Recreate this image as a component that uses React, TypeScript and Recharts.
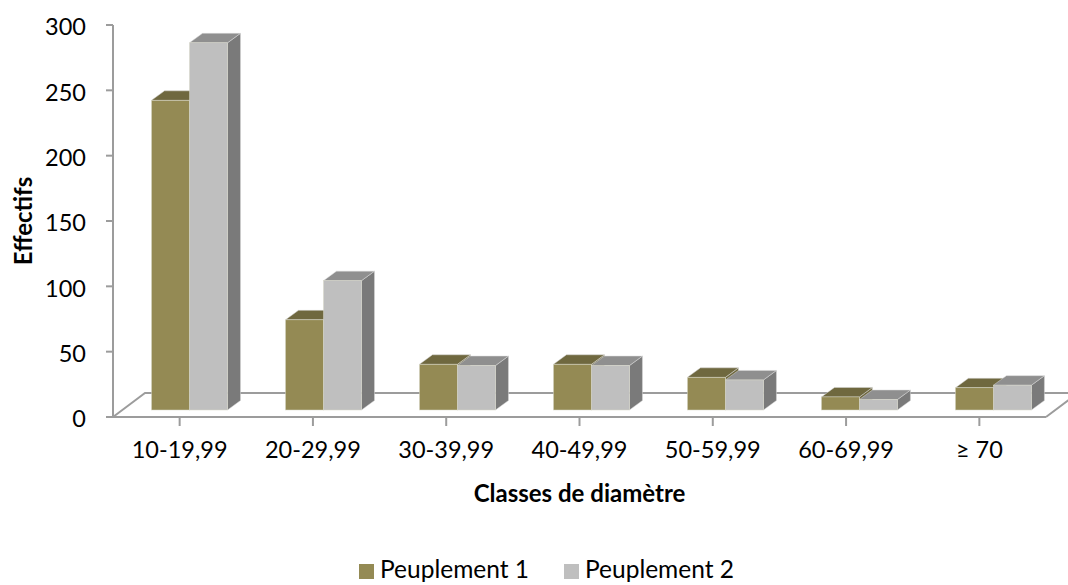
import React from "react";
import { BarChart, Bar, XAxis, YAxis, Legend } from "recharts";

const categories = ["10-19,99", "20-29,99", "30-39,99", "40-49,99", "50-59,99", "60-69,99", "≥ 70"];
const peuplement1 = [237, 69, 35, 35, 25, 10, 17];
const peuplement2 = [281, 99, 34, 34, 23, 8, 19];
const yTicks = [0, 50, 100, 150, 200, 250, 300];

const chartData = categories.map((name, i) => ({
  name,
  p1: peuplement1[i],
  p2: peuplement2[i],
}));

const FONT = "Lato, Carlito, sans-serif";
const AXIS_COLOR = "#9c9c9c";

// fake 3D box: bars sit a bit behind the axis, on the floor
const Box3D = (props: any) => {
  const { x, y, width, height, index, front, top, side } = props;
  const dx = 13;
  const dy = 9.5;
  // the perspective spreads the groups a little towards the right
  const fx = x + 9.5 + index * 0.7;
  const fy = y - 7;
  const r = fx + width;
  const b = fy + height;
  return (
    <g>
      <path
        d={`M${r},${fy} L${r + dx},${fy - dy} L${r + dx},${b - dy} L${r},${b} Z`}
        fill={side}
        stroke="#d8d8d8"
        strokeWidth={0.5}
      />
      <path
        d={`M${fx},${fy} L${fx + dx},${fy - dy} L${r + dx},${fy - dy} L${r},${fy} Z`}
        fill={top}
        stroke="#d8d8d8"
        strokeWidth={0.5}
      />
      <rect x={fx} y={fy} width={width} height={height} fill={front} stroke="#d8d8c8" strokeWidth={0.5} />
    </g>
  );
};

const legendText = (value: string) => <span style={{ color: "#000", marginLeft: 2, marginRight: 25 }}>{value}</span>;

const App = () => {
  return (
    <div style={{ position: "absolute", left: 0, top: 0, width: 1068, height: 585, background: "#fff", overflow: "hidden" }}>
      <BarChart
        width={1068}
        height={585}
        data={chartData}
        margin={{ top: 25, right: 22, bottom: 39, left: 0 }}
        barGap={0}
        barCategoryGap={29}
      >
        {/* floor and back wall lines */}
        <path
          d="M113,417 L145,393 L1068,393 M1046,417 L1078,393"
          fill="none"
          stroke={AXIS_COLOR}
          strokeWidth={2}
        />
        <XAxis
          dataKey="name"
          height={100}
          interval={0}
          tickSize={9}
          tickMargin={15}
          axisLine={{ stroke: AXIS_COLOR, strokeWidth: 2 }}
          tickLine={{ stroke: AXIS_COLOR, strokeWidth: 2 }}
          tick={{ fill: "#000", fontSize: 23.5, fontFamily: FONT }}
          label={{
            value: "Classes de diamètre",
            position: "insideBottom",
            offset: 15,
            fill: "#000",
            fontSize: 24,
            fontWeight: 700,
            fontFamily: FONT,
          }}
        />
        <YAxis
          width={113}
          domain={[0, 300]}
          ticks={yTicks}
          interval={0}
          tickSize={7}
          tickMargin={20}
          axisLine={{ stroke: AXIS_COLOR, strokeWidth: 2 }}
          tickLine={{ stroke: AXIS_COLOR, strokeWidth: 2 }}
          tick={{ fill: "#000", fontSize: 23.5, fontFamily: FONT, dy: 2 }}
          label={{
            value: "Effectifs",
            angle: -90,
            position: "insideLeft",
            offset: 23,
            fill: "#000",
            fontSize: 24,
            fontWeight: 700,
            fontFamily: FONT,
            style: { textAnchor: "middle" },
          }}
        />
        <Bar
          dataKey="p1"
          name="Peuplement 1"
          fill="#948a54"
          isAnimationActive={false}
          shape={(p: any) => <Box3D {...p} front="#948a54" top="#6f683f" side="#6f683f" />}
        />
        <Bar
          dataKey="p2"
          name="Peuplement 2"
          fill="#bfbfbf"
          isAnimationActive={false}
          shape={(p: any) => <Box3D {...p} front="#bfbfbf" top="#8f8f8f" side="#7a7a7a" />}
        />
        <Legend
          iconType="square"
          iconSize={15}
          formatter={legendText}
          wrapperStyle={{ fontSize: 24.5, fontFamily: FONT, top: 554, left: 30, width: 1068, textAlign: "center" }}
        />
      </BarChart>
    </div>
  );
};

export default App;
